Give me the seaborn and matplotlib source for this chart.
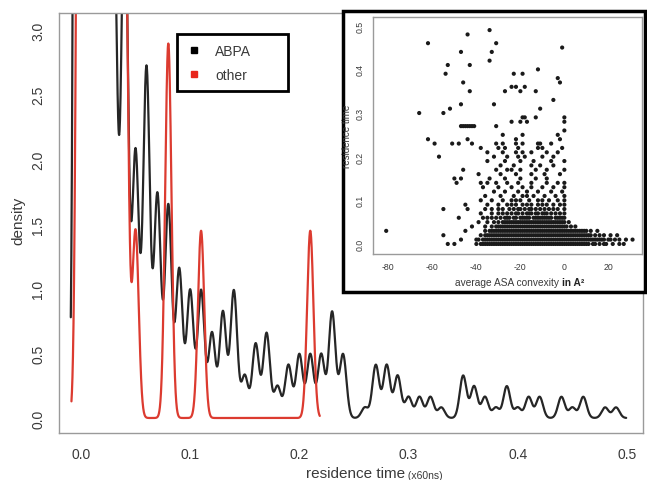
import numpy as np
import pandas as pd
import matplotlib
matplotlib.use("Agg")
import matplotlib.pyplot as plt
from matplotlib.lines import Line2D
from matplotlib.patches import Rectangle
import seaborn as sns


# residence time bins (x60ns)
time_bins = [0.00, 0.01, 0.02, 0.03, 0.04, 0.05, 0.06, 0.07, 0.08, 0.09,
             0.10, 0.11, 0.12, 0.13, 0.14, 0.15, 0.16, 0.17, 0.18, 0.19,
             0.20, 0.21, 0.22, 0.23, 0.24, 0.25, 0.26, 0.27, 0.28, 0.29,
             0.30, 0.31, 0.32, 0.33, 0.34, 0.35, 0.36, 0.37, 0.38, 0.39,
             0.40, 0.41, 0.42, 0.43, 0.44, 0.45, 0.46, 0.47, 0.48, 0.49]

# ABPA counts per bin
abpa_count = [855, 200, 141, 48, 50, 25, 33, 21, 20, 14,
              12, 12, 8, 10, 12, 4, 7, 8, 3, 5,
              6, 6, 6, 10, 6, 0, 1, 5, 5, 4,
              2, 2, 2, 1, 0, 4, 3, 2, 1, 3,
              1, 2, 2, 0, 2, 1, 2, 0, 1, 1]

# other counts
other_time = [0.00, 0.01, 0.02, 0.03, 0.04, 0.05, 0.08, 0.11, 0.21]
other_count = [8, 38, 25, 16, 3, 1, 2, 1, 1]

# inset: average ASA convexity of the points in each residence time row
inset_rows = [
    "-53 -50 -40 -38 -37 -36 -35 -34 -33 -32 -31 -30 -29 -28 -27 -26 -25 -24 -23 -22 -21 -20 -19 -18 -17 -16 -15 "
    "-14 -13 -12 -11 -10 -9 -8 -7 -6 -5 -4 -3 -2 -1 0 1 2 3 4 5 6 7 8 9 10 11 13 14 16 18 19 22 25 27",
    "-47 -40 -39 -37 -36 -35 -34 -33 -32 -31 -30 -29 -28 -27 -26 -25 -24 -23 -22 -21 -20 -19 -18 -17 -16 -15 -14 "
    "-13 -12 -11 -10 -9 -8 -7 -6 -5 -4 -3 -2 -1 0 1 2 3 4 5 6 7 8 9 10 11 12 13 14 15 16 17 18 20 21 23 25 28 31",
    "-55 -38 -36 -35 -34 -33 -32 -31 -30 -29 -28 -27 -26 -25 -24 -23 -22 -21 -20 -19 -18 -17 -16 -15 -14 -13 -12 "
    "-11 -10 -9 -8 -7 -6 -5 -4 -3 -2 -1 0 1 2 3 4 5 6 7 8 9 10 11 12 14 16 18 21 24",
    "-81 -45 -36 -34 -33 -32 -31 -30 -29 -28 -27 -26 -25 -24 -23 -22 -21 -20 -19 -18 -17 -16 -15 -14 -13 -12 -11 "
    "-10 -9 -8 -7 -6 -5 -4 -3 -2 -1 0 1 2 3 4 5 6 7 8 9 10 12 15",
    "-42 -36 -33 -31 -30 -29 -28 -27 -26 -25 -24 -23 -22 -21 -20 -19 -18 -17 -16 -15 -14 -13 -12 -11 -10 -9 -8 "
    "-7 -6 -5 -4 -3 -2 -1 0 1 3 5",
    "-39 -35 -32 -30 -28 -27 -26 -25 -24 -23 -22 -21 -20 -19 -18 -17 -16 -15 -14 -13 -12 -11 -10 -9 -8 -7 -6 "
    "-5 -4 -3 -2 -1 0 2",
    "-48 -37 -35 -33 -31 -29 -27 -26 -25 -23 -22 -20 -19 -18 -17 -16 -14 -13 -12 -11 -10 -9 -8 -7 -6 -4 -3 -2 -1 0",
    "-38 -33 -30 -28 -26 -24 -22 -21 -19 -17 -16 -15 -13 -12 -10 -9 -8 -6 -4 -2 0",
    "-55 -44 -36 -33 -30 -28 -25 -23 -21 -20 -18 -16 -15 -13 -11 -9 -7 -5 -3 0",
    "-45 -35 -30 -26 -24 -22 -19 -17 -15 -12 -10 -8 -5 -2 0",
    "-38 -33 -28 -24 -22 -20 -16 -12 -10 -7 -3 0",
    "-36 -29 -23 -19 -17 -14 -9 -4 0",
    "-32 -27 -21 -17 -12 -6 -1",
    "-37 -30 -24 -19 -15 -10 -5 0",
    "-49 -38 -35 -31 -26 -21 -15 -8 -3 0",
    "-50 -47 -34 -27 -20 -13 -8",
    "-39 -29 -22 -15 -9 -2",
    "-46 -31 -26 -24 -20 -13 -8 0",
    "-29 -23 -15 -11 -5",
    "-35 -27 -20 -14 -6 0",
    "-57 -32 -26 -21 -18 -10 -5",
    "-35 -28 -22 -19 -15 -8 -3",
    "-38 -30 -27 -21 -12 -10 -1",
    "-59 -51 -48 -42 -31 -28 -22 -19 -12 -11 -6",
    "-62 -44 -22 -2",
    "-28 -19 -3",
    "0",
    "-47 -46 -45 -44 -43 -42 -41 -31",
    "-24 -20 -17 0",
    "-19 -18 -13 0",
    "-66 -55",
    "-52 -11",
    "-47 -32",
    "-5",
    "",
    "-43 -27 -20 -13",
    "-24 -22 -18",
    "-46 -2",
    "-3",
    "-54 -23 -19",
    "-12",
    "-53 -43",
    "-34",
    "",
    "-47 -33",
    "-1",
    "-62 -31",
    "",
    "-44",
    "-34",
]

x_ticks = [0.0, 0.1, 0.2, 0.3, 0.4, 0.5]
y_ticks = [0.0, 0.5, 1.0, 1.5, 2.0, 2.5, 3.0]
inset_x_ticks = [-80, -60, -40, -20, 0, 20]
inset_y_ticks = [0.0, 0.1, 0.2, 0.3, 0.4, 0.5]

GREY = '#9a9a9a'
TEXT = '#3a3a3a'


def kde_line(ax, df, h, color):
    # gaussian kernel of width h, evaluated out to 3 bandwidths past the data
    x, w = df['time'].to_numpy(), df['count'].to_numpy()
    factor = h / np.sqrt(np.cov(x, aweights=w))
    sns.kdeplot(data=df, x='time', weights='count', bw_method=factor,
                gridsize=4000, cut=3, clip=(x.min() - 3 * h, x.max() + 3 * h),
                color=color, linewidth=1.6, ax=ax)


def style_axes(ax, labelsize, length, pad):
    for s in ax.spines.values():
        s.set_color(GREY)
        s.set_linewidth(1.0)
    ax.tick_params(direction='out', length=length, width=1, color=GREY,
                   labelsize=labelsize, labelcolor=TEXT, pad=pad)
    ax.tick_params(axis='y', labelrotation=90)
    for lab in ax.get_yticklabels():
        lab.set_verticalalignment('center')


def main():
    sns.set_style('white')
    plt.rcParams['font.family'] = ['Liberation Sans', 'DejaVu Sans']

    abpa = pd.DataFrame({'time': time_bins, 'count': abpa_count})
    other = pd.DataFrame({'time': other_time, 'count': other_count})

    fig = plt.figure(figsize=(6.47, 4.81), dpi=100)
    ax = fig.add_axes([59 / 647, 1 - 434 / 481, 584 / 647, 420 / 481])

    kde_line(ax, abpa, 0.0031, '#262626')
    kde_line(ax, other, 0.0029, '#dc3b30')

    ax.set_xlim(-0.0201, 0.5147)
    ax.set_ylim(-0.116, 3.132)
    ax.set_xticks(x_ticks)
    ax.set_xticklabels([f'{t:.1f}' for t in x_ticks])
    ax.set_yticks(y_ticks)
    ax.set_yticklabels([f'{t:.1f}' for t in y_ticks])
    ax.set_xlabel('')
    ax.set_ylabel('')
    style_axes(ax, 10, 6, 4)

    handles = [Line2D([], [], marker='s', ls='', color='black', markersize=5),
               Line2D([], [], marker='s', ls='', color='#e8261c', markersize=5)]
    leg = ax.legend(handles, ['ABPA', 'other'], loc='upper left',
                    bbox_to_anchor=(0.202, 0.95 - 0.136, 0.19, 0.136), mode='expand',
                    frameon=True, fancybox=False, edgecolor='black', framealpha=1,
                    fontsize=10, handlelength=1.0, handletextpad=1.04,
                    borderpad=0.7, labelspacing=0.72, borderaxespad=0)
    leg.get_frame().set_linewidth(2)
    for t in leg.get_texts():
        t.set_color(TEXT)

    fig.text(18 / 647, 1 - 221 / 481, 'density', rotation=90, ha='center',
             va='center', fontsize=11, color=TEXT)
    xl = fig.text(306 / 647, 1 - 474 / 481, 'residence time', ha='left',
                  va='center', fontsize=11, color=TEXT)
    ax.annotate(' (x60ns)', xy=(1, 0), xycoords=xl, ha='left', va='bottom',
                fontsize=7.5, color=TEXT)

    # inset
    box = Rectangle((343 / 647, 188 / 481), 302 / 647, 281 / 481,
                    transform=fig.transFigure, facecolor='white',
                    edgecolor='black', linewidth=2.5, zorder=2)
    fig.add_artist(box)

    conv, rt = [], []
    for t, row in zip(time_bins, inset_rows):
        for v in row.split():
            conv.append(float(v))
            rt.append(t)
    pts = pd.DataFrame({'convexity': conv, 'residence': rt})

    iax = fig.add_axes([373 / 647, 1 - 255 / 481, 269 / 647, 237 / 481], zorder=3)
    sns.scatterplot(data=pts, x='convexity', y='residence', s=9, color='#1a1a1a',
                    edgecolor='none', linewidth=0, ax=iax)
    iax.set_xlim(-87, 35.3)
    iax.set_ylim(-0.023, 0.52)
    iax.set_xticks(inset_x_ticks)
    iax.set_xticklabels([str(t) for t in inset_x_ticks])
    iax.set_yticks(inset_y_ticks)
    iax.set_yticklabels([f'{t:.1f}' for t in inset_y_ticks])
    iax.set_xlabel('')
    iax.set_ylabel('')
    style_axes(iax, 6.3, 3, 3)

    fig.text(347 / 647, 1 - 136 / 481, 'residence time', rotation=90, ha='center',
             va='center', fontsize=7, color=TEXT, zorder=4)
    il = fig.text(455 / 647, 1 - 283 / 481, 'average ASA convexity ', ha='left',
                  va='center', fontsize=7.3, color=TEXT, zorder=4)
    iax.annotate('in A\u00b2', xy=(1, 0), xycoords=il, ha='left', va='bottom',
                 fontsize=7.3, fontweight='bold', color='#222222',
                 annotation_clip=False, zorder=4)

    fig.savefig('out.png', dpi=100)


if __name__ == '__main__':
    main()
